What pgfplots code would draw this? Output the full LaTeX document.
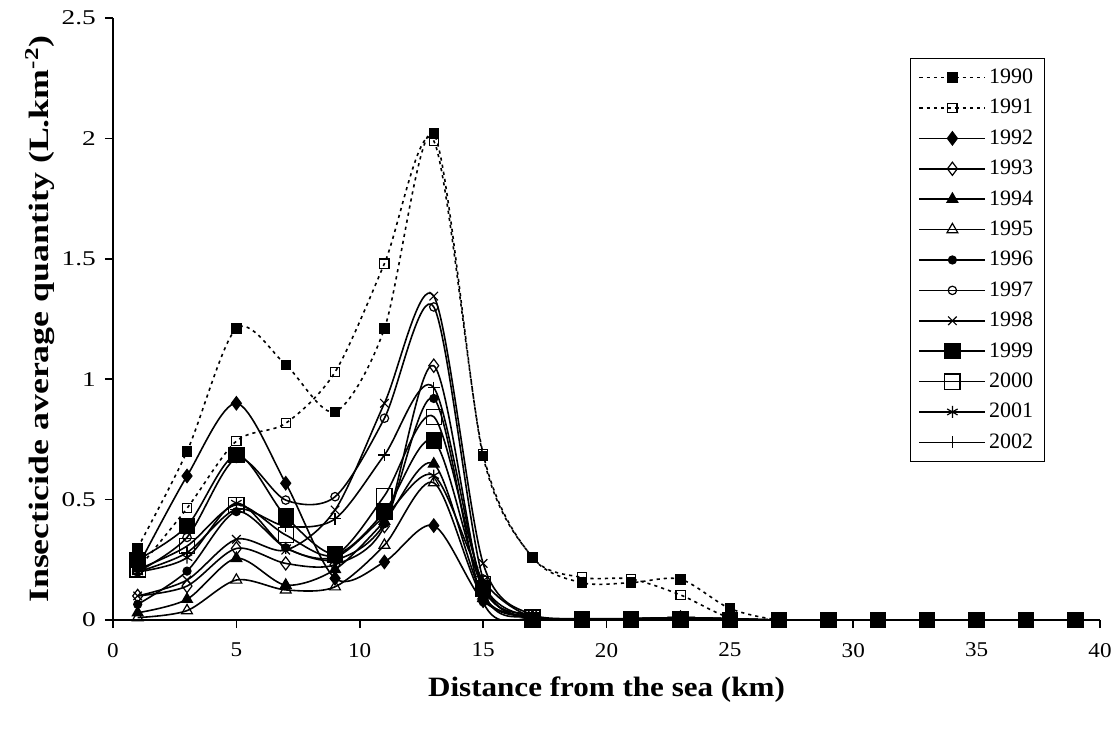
\documentclass[border=0pt]{standalone}
\usepackage{fontspec}
\setmainfont{Liberation Serif}
\usepackage{graphicx}
\usepackage{pgfplots}
\usepackage{pgfplotstable}
\pgfplotsset{compat=1.18}

% distance (km) vs insecticide quantity, one column per year
\pgfplotstableread{
x  y1990 y1991 y1992 y1993 y1994 y1995 y1996 y1997 y1998 y1999 y2000 y2001 y2002
1  0.30  0.21  0.22  0.10  0.03  0.01  0.065 0.20  0.10  0.25  0.21  0.20  0.20
3  0.70  0.464 0.598 0.141 0.086 0.039 0.203 0.343 0.166 0.39  0.307 0.259 0.28
5  1.21  0.743 0.90  0.297 0.256 0.166 0.45  0.671 0.335 0.685 0.478 0.485 0.46
7  1.06  0.817 0.568 0.235 0.145 0.125 0.30  0.498 0.29  0.43  0.353 0.30  0.39
9  0.865 1.03  0.173 0.23  0.21  0.138 0.25  0.512 0.457 0.274 0.27  0.26  0.42
11 1.21  1.48  0.241 0.39  0.41  0.311 0.40  0.838 0.90  0.45  0.516 0.43  0.685
13 2.02  1.99  0.392 1.056 0.648 0.57  0.92  1.30  1.345 0.745 0.844 0.60  0.965
15 0.68  0.69  0.08  0.12  0.10  0.09  0.075 0.17  0.235 0.13  0.15  0.165 0.14
17 0.26  0.26  0.01  0.01  0.01  0.01  0.005 0.01  0.02  0.0   0.01  0.01  0.02
19 0.155 0.177 0.005 0.005 0.005 0.005 0.005 0.005 0.005 0.0   0.005 0.005 0.005
21 0.155 0.17  0.005 0.005 0.005 0.005 0.005 0.005 0.005 0.0   0.005 0.005 0.005
23 0.169 0.104 0.01  0.005 0.01  0.005 0.005 0.01  0.01  0.0   0.005 0.005 0.01
25 0.048 0.01  0.005 0.0   0.005 0.0   0.0   0.005 0.005 0.0   0.0   0.0   0.005
27 0.0   0.0   0.0   0.0   0.0   0.0   0.0   0.0   0.0   0.0   0.0   0.0   0.0
29 0.0   0.0   0.0   0.0   0.0   0.0   0.0   0.0   0.0   0.0   0.0   0.0   0.0
31 0.0   0.0   0.0   0.0   0.0   0.0   0.0   0.0   0.0   0.0   0.0   0.0   0.0
33 0.0   0.0   0.0   0.0   0.0   0.0   0.0   0.0   0.0   0.0   0.0   0.0   0.0
35 0.0   0.0   0.0   0.0   0.0   0.0   0.0   0.0   0.0   0.0   0.0   0.0   0.0
37 0.0   0.0   0.0   0.0   0.0   0.0   0.0   0.0   0.0   0.0   0.0   0.0   0.0
39 0.0   0.0   0.0   0.0   0.0   0.0   0.0   0.0   0.0   0.0   0.0   0.0   0.0
}\quantities

\pgfplotsset{
  yr/.style={black, line width=0.8pt, smooth, tension=0.5,
             mark options={solid, line width=0.6pt}},
  open/.style={mark options={solid, line width=0.6pt, fill=white}},
  dots/.style={yr, dash pattern=on 1.6pt off 2pt},
}

\begin{document}
\begin{tikzpicture}
\begin{axis}[
  name=ax,
  scale only axis,
  width=493.5pt, height=301pt,
  xmin=0, xmax=40, ymin=0, ymax=2.5,
  xtick={0,5,10,15,20,25,30,35,40},
  ytick={0,0.5,1,1.5,2,2.5},
  axis lines*=left,
  axis line style={line width=0.9pt},
  tick align=outside,
  major tick length=4pt,
  tick style={black, line width=0.8pt},
  tick label style={font=\fontsize{10.5}{12}\selectfont},
  xticklabel style={yshift=-4pt, xscale=1.1},
  yticklabel style={xscale=1.3, anchor=east},
  /pgf/number format/assume math mode=true,
  xlabel={\scalebox{1.11}[1]{Distance from the sea (km)}},
  ylabel={\scalebox{1.28}[1]{Insecticide average quantity (L.km\textsuperscript{-2})}},
  label style={font=\fontsize{14}{16}\selectfont\bfseries},
  xlabel style={at={(axis description cs:0.5,-0.115)}, anchor=center},
  ylabel style={at={(axis description cs:-0.074,0.5)}, anchor=center},
  legend cell align=left,
  legend image code/.code={\draw[mark repeat=2,mark phase=2,#1]
    plot coordinates {(0pt,0pt) (16.5pt,0pt) (33pt,0pt)};},
  legend style={at={(axis description cs:0.8075,0.9336)}, anchor=north west,
    draw=black, line width=0.6pt, font=\fontsize{11}{13}\selectfont,
    row sep=2.2pt, inner xsep=4pt, inner ysep=3pt,
    nodes={text height=8pt, text depth=2pt, inner sep=1.5pt}},
]
\addplot[dots, mark=square*, mark size=2.3pt] table[y=y1990] {\quantities};
\addlegendentry{1990}
\addplot[dots, open, mark=square, mark size=2.3pt] table[y=y1991] {\quantities};
\addlegendentry{1991}
\addplot[yr, mark=diamond*, mark size=3.3pt] table[y=y1992] {\quantities};
\addlegendentry{1992}
\addplot[yr, open, mark=diamond, mark size=3.3pt] table[y=y1993] {\quantities};
\addlegendentry{1993}
\addplot[yr, mark=triangle*, mark size=3.1pt] table[y=y1994] {\quantities};
\addlegendentry{1994}
\addplot[yr, open, mark=triangle, mark size=3.1pt] table[y=y1995] {\quantities};
\addlegendentry{1995}
\addplot[yr, mark=*, mark size=2pt] table[y=y1996] {\quantities};
\addlegendentry{1996}
\addplot[yr, open, mark=o, mark size=2.1pt] table[y=y1997] {\quantities};
\addlegendentry{1997}
\addplot[yr, mark=x, mark size=3pt] table[y=y1998] {\quantities};
\addlegendentry{1998}
\addplot[yr, mark=square*, mark size=3.8pt] table[y=y1999] {\quantities};
\addlegendentry{1999}
\addplot[yr, open, mark=square, mark size=3.8pt] table[y=y2000] {\quantities};
\addlegendentry{2000}
\addplot[yr, mark=asterisk, mark size=3pt] table[y=y2001] {\quantities};
\addlegendentry{2001}
\addplot[yr, mark=+, mark size=3pt] table[y=y2002] {\quantities};
\addlegendentry{2002}
\end{axis}
\pgfresetboundingbox
\path ([xshift=-56.5pt,yshift=-54.5pt]ax.south west)
  rectangle ([xshift=10pt,yshift=9pt]ax.north east);
\end{tikzpicture}
\end{document}
